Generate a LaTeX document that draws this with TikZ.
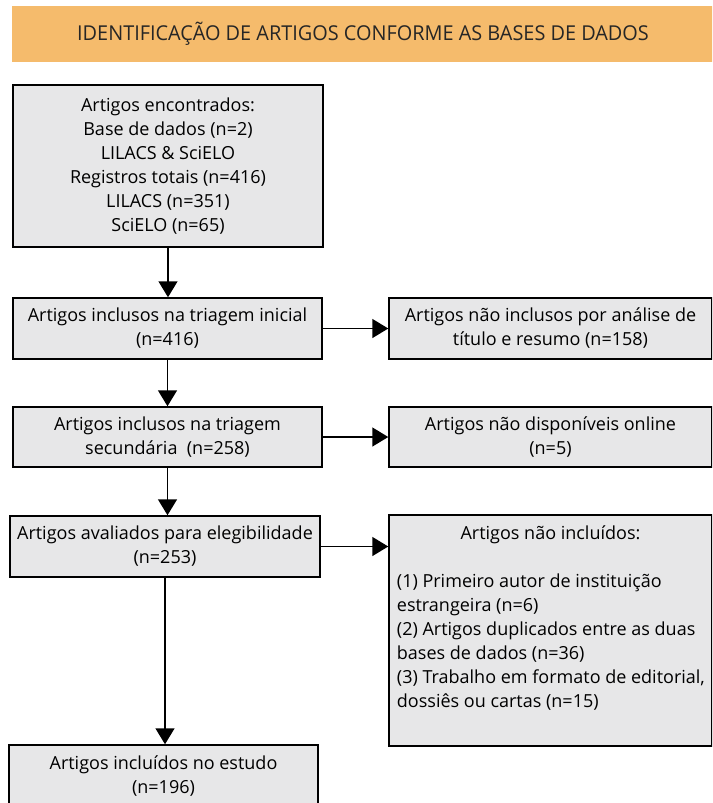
\documentclass[tikz,border=0pt]{standalone}
\usepackage{fontspec}
\setmainfont{Open Sans}
\usetikzlibrary{arrows.meta,positioning}
\definecolor{bannerorange}{RGB}{245,187,108}
\definecolor{boxgray}{RGB}{231,231,232}
\newcommand{\boxfont}{\fontsize{18}{24}\selectfont}

\begin{document}
\begin{tikzpicture}[x=1pt, y=-1pt,
    stagebox/.style={draw, line width=1.5pt, fill=boxgray, align=center, inner sep=0pt, font=\boxfont},
    flow/.style={-{Triangle[length=16pt,width=19pt]}, line width=1.6pt}]
\useasboundingbox (0,0) rectangle (712,803);
\clip (0,0) rectangle (712,803);
% header
\node[fill=bannerorange, minimum width=702pt, minimum height=56pt, inner sep=0pt] (banner) at (363,34)
    {\fontsize{20.5}{24}\selectfont\color{black!85}\scalebox{0.97}[1]{IDENTIFICAÇÃO DE ARTIGOS CONFORME AS BASES DE DADOS}};
% left column
\node[stagebox, minimum width=310pt, minimum height=162pt] (found) at (168,166)
    {Artigos encontrados:\\ Base de dados (n=2)\\ LILACS \& SciELO\\ Registros totais (n=416)\\ LILACS (n=351)\\ SciELO (n=65)};
\node[stagebox, minimum width=309pt, minimum height=61pt] (screen) at (167.5,328.5)
    {Artigos inclusos na triagem inicial\\ (n=416)};
\node[stagebox, minimum width=309pt, minimum height=60pt] (second) at (167.5,437)
    {Artigos inclusos na triagem\\ secundária~~(n=258)};
\node[stagebox, minimum width=310pt, minimum height=61pt] (elig) at (165,546.5)
    {Artigos avaliados para elegibilidade\\ (n=253)};
\node[stagebox, minimum width=309pt, minimum height=63pt] (included) at (163.5,776.5)
    {Artigos incluídos no estudo\\ (n=196)};
% right column
\node[stagebox, minimum width=323pt, minimum height=61pt] (titleout) at (550.5,328.5)
    {Artigos não inclusos por análise de\\ título e resumo (n=158)};
\node[stagebox, minimum width=323pt, minimum height=60pt] (offline) at (550.5,437)
    {Artigos não disponíveis online\\ (n=5)};
\node[stagebox, minimum width=323pt, minimum height=231pt] (notincl) at (550.5,630.5) {};
\node[font=\boxfont, inner sep=0pt, below=11pt of notincl.north] (notincltitle) {Artigos não incluídos:};
\node[font=\boxfont, inner sep=0pt, align=left, anchor=north west] (reasons) at ([xshift=8.5pt, yshift=-59pt]notincl.north west)
    {(1) Primeiro autor de instituição\\ estrangeira (n=6)\\ (2) Artigos duplicados entre as duas\\ bases de dados (n=36)\\
     (3) Trabalho em formato de editorial,\\ dossiês ou cartas (n=15)};
% arrows
\draw[flow] (found.south) -- (found.south |- screen.north);
\draw[flow] (screen.south) -- (screen.south |- second.north);
\draw[flow] (second.south) -- (second.south |- elig.north);
\draw[flow] (elig.south) -- (elig.south |- included.north);
\draw[flow] (screen.east) -- (titleout.west);
\draw[flow] (second.east) -- (offline.west);
\draw[flow] (elig.east) -- (elig.east -| notincl.west);
\end{tikzpicture}
\end{document}
